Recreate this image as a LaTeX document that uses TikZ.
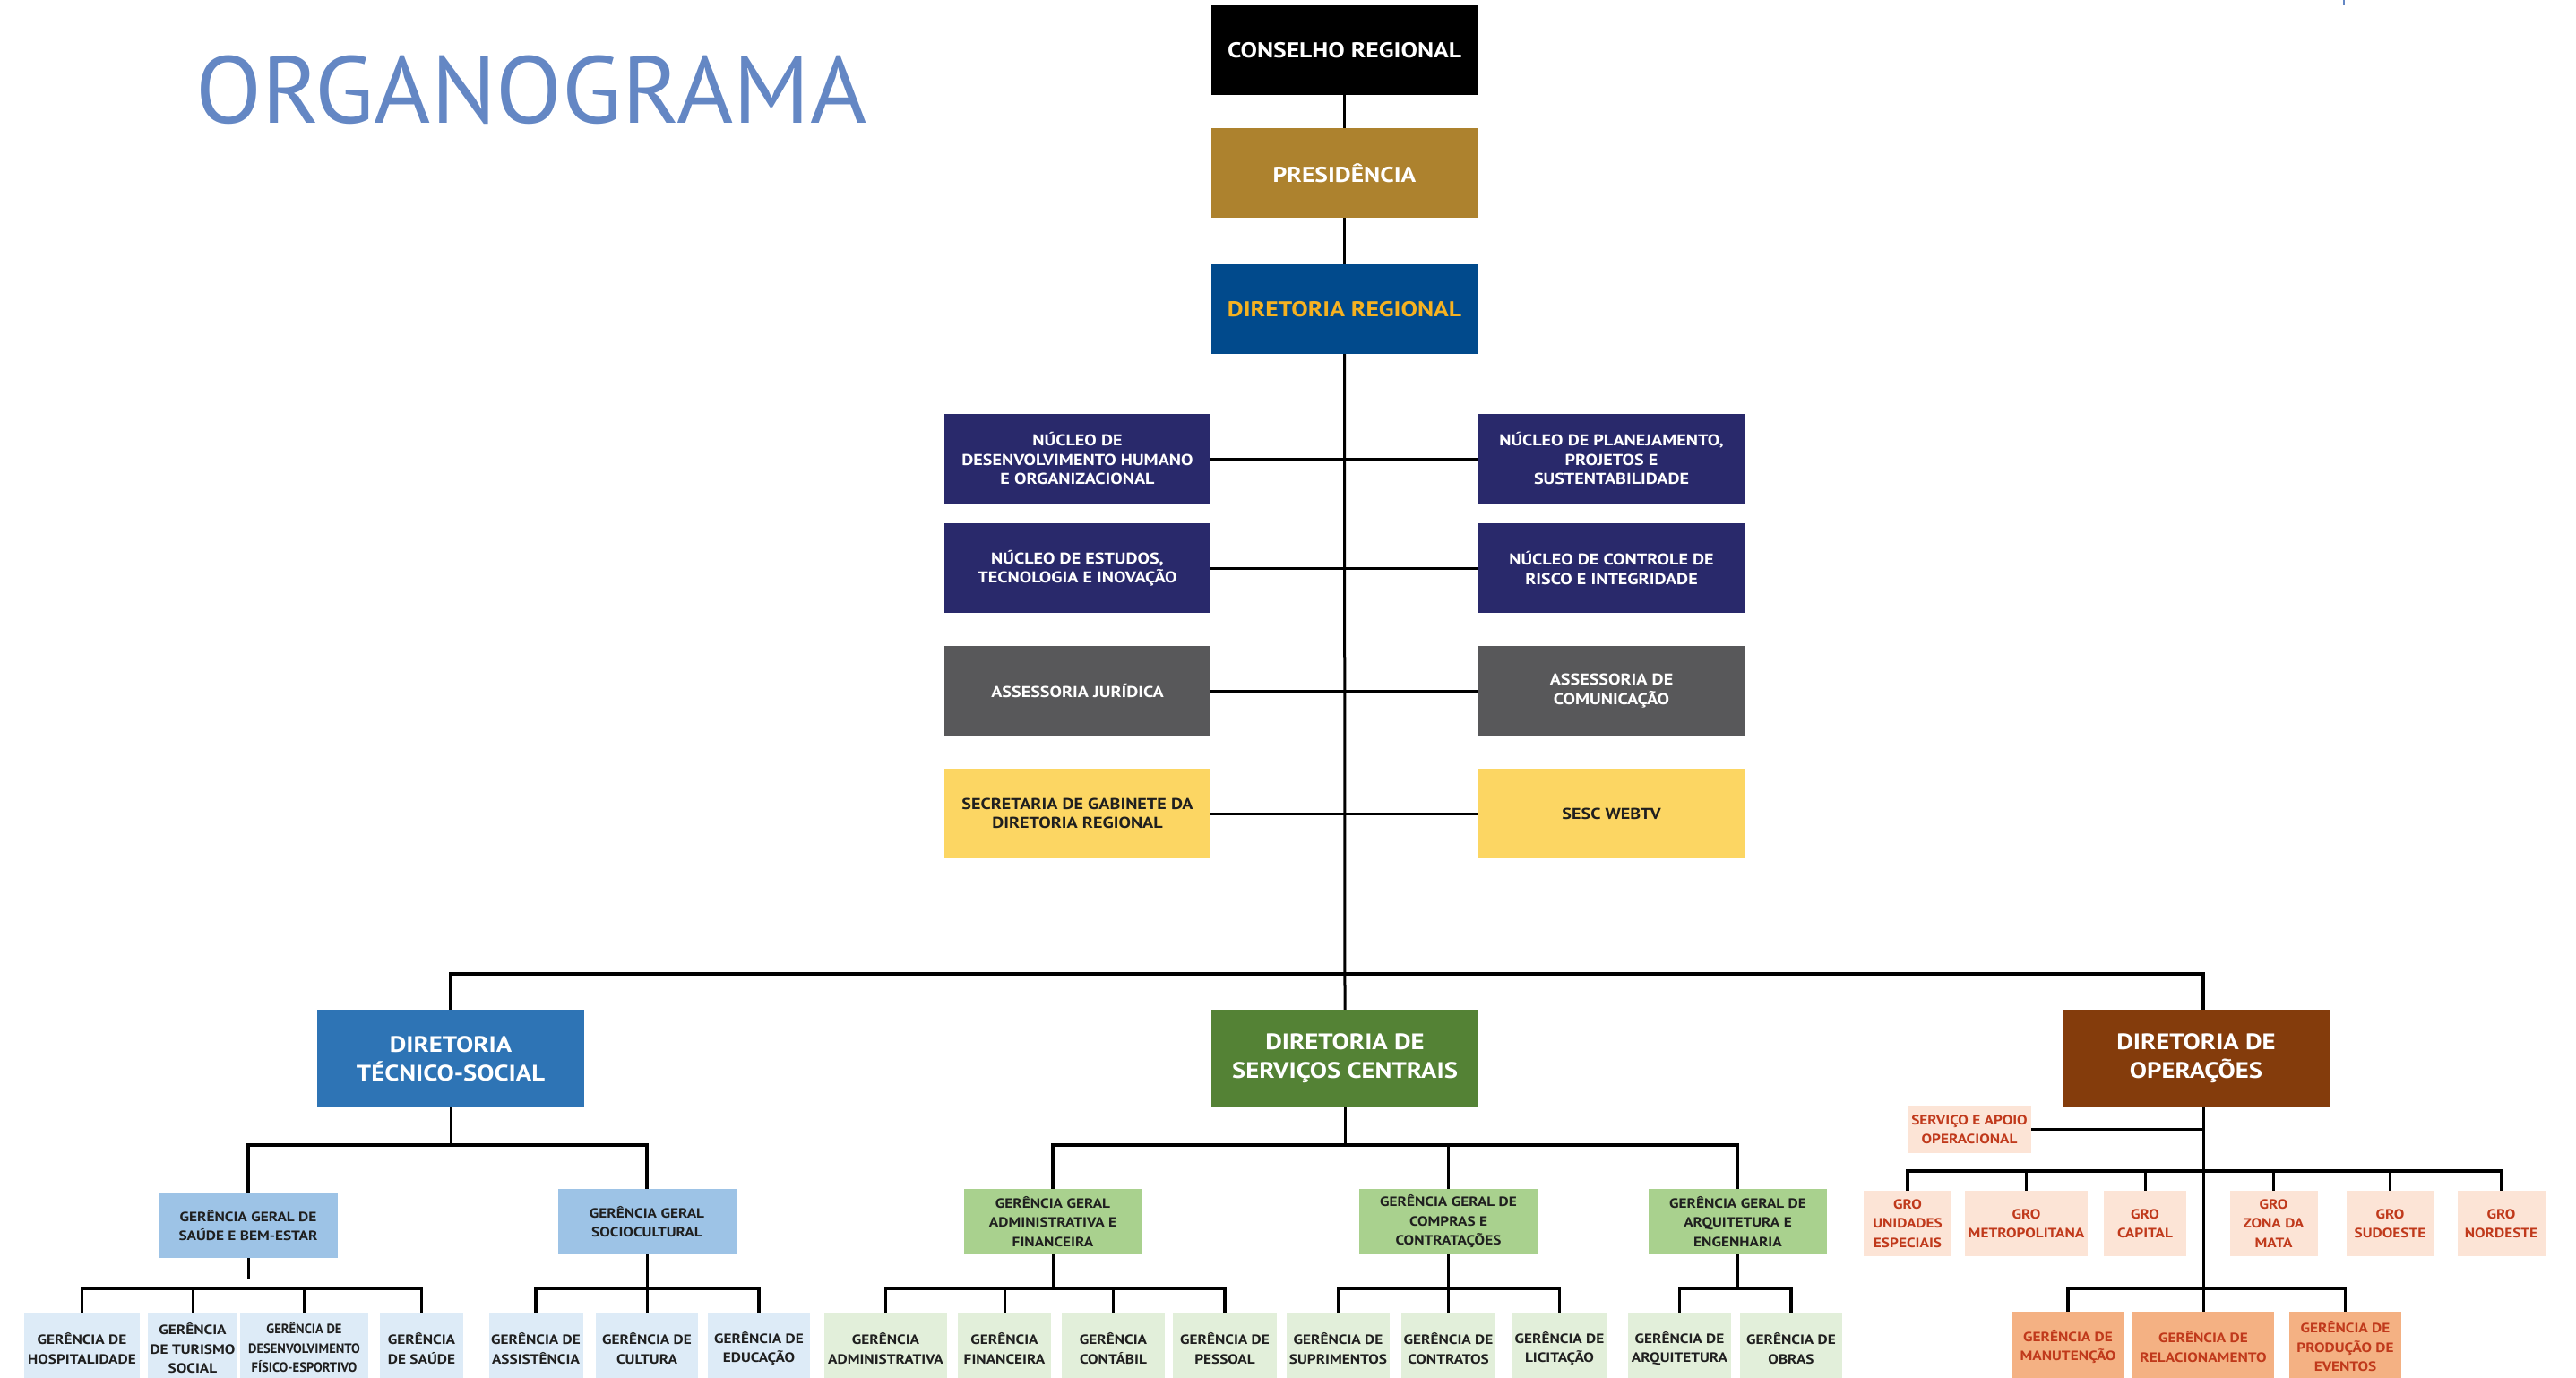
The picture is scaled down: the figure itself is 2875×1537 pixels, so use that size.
\documentclass[tikz,border=0pt]{standalone}
\usepackage{fontspec}
\setmainfont{PT Sans}[FakeStretch=1.15]
\newfontfamily\titlefont[FakeStretch=1.02]{PT Sans}
\newfontfamily\narrowfont[FakeStretch=0.97]{PT Sans}
\definecolor{cPres}{HTML}{AD822E}
\definecolor{cDR}{HTML}{014A8C}
\definecolor{cDRtxt}{HTML}{F6B221}
\definecolor{cNuc}{HTML}{29296B}
\definecolor{cAss}{HTML}{58585A}
\definecolor{cSec}{HTML}{FCD663}
\definecolor{cDTS}{HTML}{2E74B5}
\definecolor{cGGb}{HTML}{9DC3E6}
\definecolor{cLb}{HTML}{DDEBF7}
\definecolor{cDSC}{HTML}{548235}
\definecolor{cGGg}{HTML}{A9D18E}
\definecolor{cLg}{HTML}{E2EFDA}
\definecolor{cDOP}{HTML}{843C0C}
\definecolor{cGRO}{HTML}{FCE4D6}
\definecolor{cLo}{HTML}{F4B183}
\definecolor{cOtxt}{HTML}{C0391B}
\definecolor{cDark}{HTML}{1F1F1F}
\definecolor{cTitle}{HTML}{6487C4}
\begin{document}
\begin{tikzpicture}[x=1pt,y=-1pt,
  box/.style={rectangle, inner sep=1pt, align=center, anchor=center},
  wh/.style 2 args={minimum width=#1pt, minimum height=#2pt},
  ftop/.style={font=\bfseries\fontsize{24}{30}\selectfont},
  fmid/.style={font=\bfseries\fontsize{17.5}{21.5}\selectfont},
  fdir/.style={font=\bfseries\fontsize{25}{32}\selectfont},
  fsm/.style={font=\bfseries\fontsize{15}{21.5}\selectfont},
  conn/.style={draw=black, line width=3pt},
  bus/.style={draw=black, line width=3.5pt},
  blueL/.style={box, fill=cLb, text=cDark, fsm, wh={#1}{78}},
  greenL/.style={box, fill=cLg, text=cDark, fsm, wh={#1}{78}},
  groB/.style={box, fill=cGRO, text=cOtxt, fsm, wh={#1}{73}},
  oraL/.style={box, fill=cLo, text=cOtxt, fsm, wh={#1}{78}},
]
\useasboundingbox (0,0) rectangle (2875,1537);
\clip (0,0) rectangle (2875,1537);

% title
\node[anchor=base west, inner sep=0pt, text=cTitle, font=\titlefont\fontsize{106}{110}\selectfont] (title) at (218,137) {ORGANOGRAMA};
\coordinate (tickA) at (2616,0);
\coordinate (tickB) at (2616,6);
\draw[cTitle, line width=1.5pt] (tickA) -- (tickB);

% top chain
\node[box, fill=black, text=white, ftop, wh={298}{100}] (cr) at (1500.5,56) {CONSELHO REGIONAL};
\node[box, fill=cPres, text=white, ftop, wh={298}{100}] (pres) at (1500.5,193) {PRESIDÊNCIA};
\node[box, fill=cDR, text=cDRtxt, ftop, wh={298}{100}] (dr) at (1500.5,345) {DIRETORIA REGIONAL};

% staff units
\node[box, fill=cNuc, text=white, fmid, wh={297}{100}] (nl1) at (1202.5,512) {NÚCLEO DE\\DESENVOLVIMENTO HUMANO\\E ORGANIZACIONAL};
\node[box, fill=cNuc, text=white, fmid, wh={297}{100}] (nr1) at (1798.5,512) {NÚCLEO DE PLANEJAMENTO,\\PROJETOS E\\SUSTENTABILIDADE};
\node[box, fill=cNuc, text=white, fmid, wh={297}{100}] (nl2) at (1202.5,634) {NÚCLEO DE ESTUDOS,\\TECNOLOGIA E INOVAÇÃO};
\node[box, fill=cNuc, text=white, fmid, wh={297}{100}] (nr2) at (1798.5,634) {NÚCLEO DE CONTROLE DE\\RISCO E INTEGRIDADE};
\node[box, fill=cAss, text=white, fmid, wh={297}{100}] (al) at (1202.5,771) {ASSESSORIA JURÍDICA};
\node[box, fill=cAss, text=white, fmid, wh={297}{100}] (ar) at (1798.5,771) {ASSESSORIA DE\\COMUNICAÇÃO};
\node[box, fill=cSec, text=cDark, fmid, wh={297}{100}] (sl) at (1202.5,908) {SECRETARIA DE GABINETE DA\\DIRETORIA REGIONAL};
\node[box, fill=cSec, text=cDark, fmid, wh={297}{100}] (sr) at (1798.5,908) {SESC WEBTV};

% directorates
\node[box, fill=cDTS, text=white, fdir, wh={298}{109}] (dts) at (503,1181.5) {DIRETORIA\\TÉCNICO-SOCIAL};
\node[box, fill=cDSC, text=white, fdir, wh={298}{109}] (dsc) at (1501,1181.5) {DIRETORIA DE\\SERVIÇOS CENTRAIS};
\node[box, fill=cDOP, text=white, fdir, wh={298}{109}] (dop) at (2451,1181.5) {DIRETORIA DE\\OPERAÇÕES};

% general managements
\node[box, fill=cGGb, text=cDark, fsm, wh={199}{73}] (ggs) at (277,1367.5) {GERÊNCIA GERAL DE\\SAÚDE E BEM-ESTAR};
\node[box, fill=cGGb, text=cDark, fsm, wh={199}{73}] (ggsc) at (722,1363.5) {GERÊNCIA GERAL\\SOCIOCULTURAL};
\node[box, fill=cGGg, text=cDark, fsm, wh={198}{73}] (gga) at (1175,1363.5) {GERÊNCIA GERAL\\ADMINISTRATIVA E\\FINANCEIRA};
\node[box, fill=cGGg, text=cDark, fsm, wh={199}{73}] (ggc) at (1616.5,1363.5) {GERÊNCIA GERAL DE\\COMPRAS E\\CONTRATAÇÕES};
\node[box, fill=cGGg, text=cDark, fsm, wh={199}{73}] (ggq) at (1939.5,1363.5) {GERÊNCIA GERAL DE\\ARQUITETURA E\\ENGENHARIA};

% bottom blue
\node[blueL=129] (h1) at (91.5,1505) {GERÊNCIA DE\\HOSPITALIDADE};
\node[blueL=100] (h2) at (215,1505) {GERÊNCIA\\DE TURISMO\\SOCIAL};
\node[blueL=143, font=\narrowfont\bfseries\fontsize{15}{21.5}\selectfont] (h3) at (339.5,1504) {GERÊNCIA DE\\DESENVOLVIMENTO\\FÍSICO-ESPORTIVO};
\node[blueL=93] (h4) at (470.5,1505) {GERÊNCIA\\DE SAÚDE};
\node[blueL=105] (c1) at (598,1505) {GERÊNCIA DE\\ASSISTÊNCIA};
\node[blueL=114] (c2) at (722,1505) {GERÊNCIA DE\\CULTURA};
\node[blueL=114] (c3) at (847,1505) {GERÊNCIA DE\\EDUCAÇÃO};
% bottom green
\node[greenL=137] (a1) at (988.5,1505) {GERÊNCIA\\ADMINISTRATIVA};
\node[greenL=104] (a2) at (1121,1505) {GERÊNCIA\\FINANCEIRA};
\node[greenL=115] (a3) at (1242.5,1505) {GERÊNCIA\\CONTÁBIL};
\node[greenL=116] (a4) at (1367,1505) {GERÊNCIA DE\\PESSOAL};
\node[greenL=115] (p1) at (1493.5,1505) {GERÊNCIA DE\\SUPRIMENTOS};
\node[greenL=105] (p2) at (1616.5,1505) {GERÊNCIA DE\\CONTRATOS};
\node[greenL=105] (p3) at (1740.5,1505) {GERÊNCIA DE\\LICITAÇÃO};
\node[greenL=115] (q1) at (1874.5,1505) {GERÊNCIA DE\\ARQUITETURA};
\node[greenL=114] (q2) at (1999,1505) {GERÊNCIA DE\\OBRAS};

% operations
\node[box, fill=cGRO, text=cOtxt, fsm, wh={138}{53}] (svc) at (2198,1260.5) {SERVIÇO E APOIO\\OPERACIONAL};
\node[groB=98] (g1) at (2129,1365.5) {GRO\\UNIDADES\\ESPECIAIS};
\node[groB=137] (g2) at (2261.5,1365.5) {GRO\\METROPOLITANA};
\node[groB=92] (g3) at (2394,1365.5) {GRO\\CAPITAL};
\node[groB=98] (g4) at (2537.5,1365.5) {GRO\\ZONA DA\\MATA};
\node[groB=98] (g5) at (2667.5,1365.5) {GRO\\SUDOESTE};
\node[groB=98] (g6) at (2791.5,1365.5) {GRO\\NORDESTE};
\node[oraL=125] (m1) at (2308,1503) {GERÊNCIA DE\\MANUTENÇÃO};
\node[oraL=158] (m2) at (2459,1503) {GERÊNCIA DE\\RELACIONAMENTO};
\node[oraL=125] (m3) at (2617.5,1503) {GERÊNCIA DE\\PRODUÇÃO DE\\EVENTOS};

% ---------- connectors ----------
\draw[conn] (cr.south) -- (pres.north);
\draw[conn] (pres.south) -- (dr.north);
\draw[conn] (dr.south) -- (dsc.north);
\draw[conn] (nl1.east) -- (nr1.west);
\draw[conn] (nl2.east) -- (nr2.west);
\draw[conn] (al.east) -- (ar.west);
\draw[conn] (sl.east) -- (sr.west);

\coordinate (tb) at (1501,1087);
\coordinate (dopT) at (dop.north -| m2.north);
\coordinate (dopB) at (dop.south -| m2.north);
\draw[bus] (dts.north) |- (tb) -| (dopT);

% tecnico-social
\coordinate (tsb) at (503,1278);
\draw[conn] (dts.south) -- (tsb);
\draw[bus] (ggs.north) |- (tsb) -| (ggsc.north);
\coordinate (ggsEnd) at (277,1428);
\coordinate (ggsBus) at (277,1438);
\draw[conn] (ggs.south) -- (ggsEnd);
\draw[bus] (h1.north) |- (ggsBus) -| (h4.north);
\draw[conn] (h2.north) -- (h2.north |- ggsBus);
\draw[conn] (h3.north) -- (h3.north |- ggsBus);
\coordinate (gscBus) at (722,1438);
\draw[conn] (ggsc.south) -- (c2.north);
\draw[bus] (c1.north) |- (gscBus) -| (c3.north);

% servicos centrais
\coordinate (scb) at (1501,1278);
\draw[conn] (dsc.south) -- (scb);
\draw[bus] (gga.north) |- (scb) -| (ggq.north);
\draw[conn] (ggc.north) -- (ggc.north |- scb);
\coordinate (gab) at (1175,1438);
\draw[conn] (gga.south) -- (gab);
\draw[bus] (a1.north) |- (gab) -| (a4.north);
\draw[conn] (a2.north) -- (a2.north |- gab);
\draw[conn] (a3.north) -- (a3.north |- gab);
\coordinate (gcb) at (1616.5,1438);
\draw[conn] (ggc.south) -- (p2.north);
\draw[bus] (p1.north) |- (gcb) -| (p3.north);
\coordinate (gqb) at (1939.5,1438);
\draw[conn] (ggq.south) -- (gqb);
\draw[bus] (q1.north) |- (gqb) -| (q2.north);

% operacoes
\draw[conn] (dopB) -- (m2.north);
\draw[bus] (svc.east) -- (svc.east -| m2.north);
\coordinate (grob) at (2459,1307);
\draw[bus] (g1.north) |- (grob) -| (g6.north);
\draw[conn] (g2.north) -- (g2.north |- grob);
\draw[conn] (g3.north) -- (g3.north |- grob);
\draw[conn] (g4.north) -- (g4.north |- grob);
\draw[conn] (g5.north) -- (g5.north |- grob);
\coordinate (mb) at (2459,1438);
\draw[bus] (m1.north) |- (mb) -| (m3.north);
\end{tikzpicture}
\end{document}
